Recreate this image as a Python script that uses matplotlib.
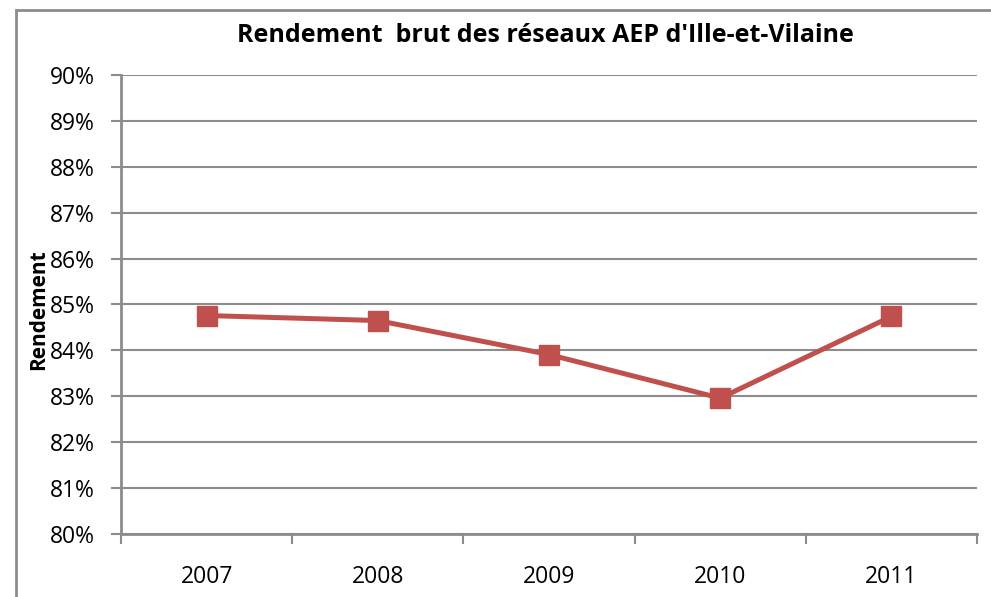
import numpy as np
import matplotlib.pyplot as plt
from matplotlib.patches import Rectangle
from matplotlib.ticker import FuncFormatter, FixedLocator

# Données
annees = ['2007', '2008', '2009', '2010', '2011']
rendement = [84.76, 84.65, 83.91, 82.96, 84.74]

plt.rcParams['font.family'] = ['Open Sans', 'DejaVu Sans']

fig = plt.figure(figsize=(9.91, 5.97), dpi=100)
ax = fig.add_axes([0.1221, 0.1055, 0.8638, 0.7689])

gris = '#8c8c8c'
x = np.arange(len(annees))

ax.plot(x, rendement, color='#c0504d', lw=3.6, marker='s', ms=14,
        markerfacecolor='#c0504d', markeredgecolor='#c0504d', zorder=3)

ax.set_xlim(-0.5, len(annees) - 0.5)
ax.set_ylim(80, 90)
ax.set_yticks(np.arange(80, 91, 1))
ax.yaxis.set_major_formatter(FuncFormatter(lambda v, p: '%d%%' % v))
ax.grid(axis='y', color=gris, lw=1.5)
ax.set_axisbelow(True)

ax.set_xticks(x)
ax.set_xticklabels(annees)
ax.xaxis.set_minor_locator(FixedLocator(np.arange(-0.5, len(annees), 1)))
ax.tick_params(axis='x', which='major', length=0, labelsize=16.5, pad=22)
ax.tick_params(axis='x', which='minor', length=7, width=1.5, color=gris)
ax.tick_params(axis='y', length=7, width=1.5, color=gris, labelsize=16.5, pad=12)

for s in ['top', 'right']:
    ax.spines[s].set_visible(False)
for s in ['left', 'bottom']:
    ax.spines[s].set_color(gris)
    ax.spines[s].set_linewidth(2)

ax.set_ylabel('Rendement', fontsize=15, fontweight='bold')
ax.yaxis.set_label_coords(-0.084, 0.488)
fig.text(0.55, 0.941, "Rendement  brut des réseaux AEP d'Ille-et-Vilaine",
         ha='center', va='center', fontsize=18, fontweight='bold')

# cadre du graphique
fig.patches.append(Rectangle((16 / 991, -0.1), 1.2, (587 / 597) + 0.1,
                             transform=fig.transFigure, fill=False,
                             edgecolor=gris, lw=2))

fig.savefig('out.png', dpi=100)
